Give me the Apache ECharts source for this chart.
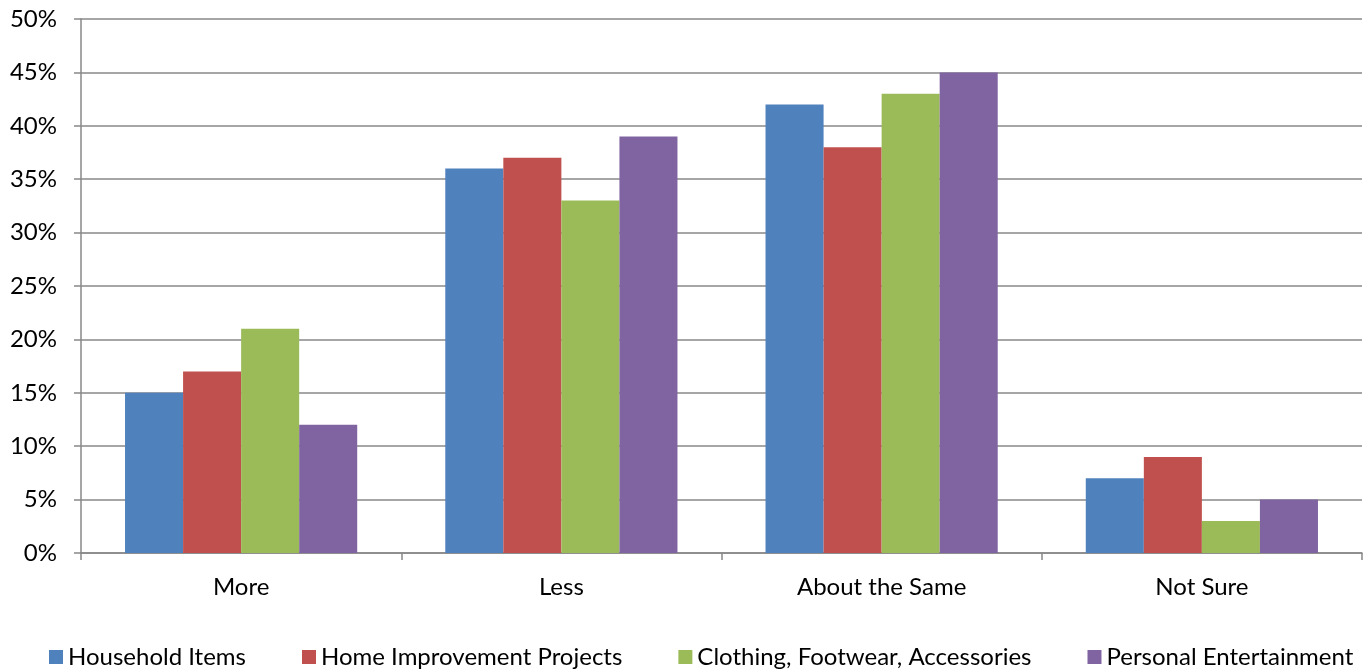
<!DOCTYPE html>
<html>
<head>
<meta charset="utf-8">
<script src="https://cdn.jsdelivr.net/npm/echarts@6/dist/echarts.min.js"></script>
<style>
  html, body { margin: 0; padding: 0; background: #fff; }
  #chart { width: 1364px; height: 671px; }
</style>
</head>
<body>
<div id="chart"></div>
<script>
// Spending intentions by category (percent of respondents)
const categories = ['More', 'Less', 'About the Same', 'Not Sure'];
const householdItems = [15, 36, 42, 7];
const homeImprovement = [17, 37, 38, 9];
const clothingFootwear = [21, 33, 43, 3];
const personalEntertainment = [12, 39, 45, 5];
const seriesNames = ['Household Items', 'Home Improvement Projects', 'Clothing, Footwear, Accessories', 'Personal Entertainment'];
const seriesColors = ['#4F81BD', '#C0504D', '#9BBB59', '#8064A2'];

const font = 'Lato, Open Sans, sans-serif';
const chart = echarts.init(document.getElementById('chart'));

const values = [householdItems, homeImprovement, clothingFootwear, personalEntertainment];

chart.setOption({
  animation: false,
  textStyle: { fontFamily: font },
  grid: { left: 81, right: 2, top: 19, bottom: 118, containLabel: false },
  legend: {
    top: 640,
    left: 44,
    itemWidth: 14,
    itemHeight: 14,
    itemGap: 56,
    itemTextGap: 7,
    icon: 'rect',
    textStyle: { fontSize: 24, color: '#000', fontFamily: font },
    data: seriesNames
  },
  xAxis: {
    type: 'category',
    data: categories,
    axisLine: { lineStyle: { color: '#888', width: 1.5 } },
    axisTick: { show: true, length: 7, lineStyle: { color: '#888', width: 1.5 } },
    axisLabel: { fontSize: 24, color: '#000', margin: 22 }
  },
  yAxis: {
    type: 'value',
    min: 0,
    max: 50,
    interval: 5,
    axisLine: { show: true, lineStyle: { color: '#888', width: 1.5 } },
    axisTick: { show: true, length: 7, lineStyle: { color: '#888', width: 1.5 } },
    splitLine: { lineStyle: { color: '#888', width: 1.5 } },
    axisLabel: { fontSize: 24, color: '#000', margin: 24, formatter: '{value}%' }
  },
  series: values.map((v, i) => ({
    name: seriesNames[i],
    type: 'bar',
    data: v,
    barGap: '0%',
    barCategoryGap: '27.5%',
    itemStyle: { color: seriesColors[i] }
  }))
});
</script>
</body>
</html>
